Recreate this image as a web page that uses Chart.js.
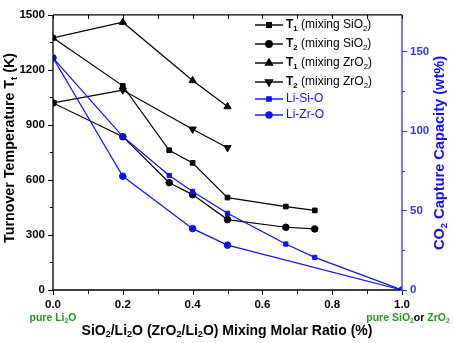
<!DOCTYPE html>
<html>
<head>
<meta charset="utf-8">
<script src="https://cdn.jsdelivr.net/npm/chart.js@4.4.1/dist/chart.umd.min.js"></script>
<style>
html,body{margin:0;padding:0;background:#fff;}
#wrap{position:relative;width:454px;height:343px;}
</style>
</head>
<body>
<div id="wrap"><canvas id="c" width="454" height="343"></canvas></div>
<script>
// ---- data ----
const t1SiO2X = [0, 0.2, 0.333, 0.4, 0.5, 0.667, 0.75];
const t1SiO2  = [1375, 1113, 762, 693, 504, 455, 434];
const t2SiO2X = [0, 0.2, 0.333, 0.4, 0.5, 0.667, 0.75];
const t2SiO2  = [1020, 836, 585, 520, 384, 342, 333];
const t1ZrO2X = [0, 0.2, 0.4, 0.5];
const t1ZrO2  = [1375, 1460, 1142, 1000];
const t2ZrO2X = [0, 0.2, 0.4, 0.5];
const t2ZrO2  = [1020, 1090, 877, 776];
const liSiOX  = [0, 0.2, 0.333, 0.4, 0.5, 0.667, 0.75, 1.0];
const liSiO   = [146, 96.5, 72, 62, 48.2, 28.9, 20.5, 0];
const liZrOX  = [0, 0.2, 0.4, 0.5, 1.0];
const liZrO   = [146, 71.5, 38.6, 28.2, 0];

const BLUE = '#1010ff';
const AXBLUE = '#3333ff';
const GREEN = '#1e9a1e';
const FONT = '"Liberation Sans", Arial, sans-serif';

function pts(xs, ys){ return xs.map((x,i)=>({x:x, y:ys[i]})); }

function ds(label, xs, ys, color, style, axis, radius, rot){
  return {
    label: label, data: pts(xs, ys), yAxisID: axis,
    borderColor: color, backgroundColor: color,
    borderWidth: 1.2, pointStyle: style, pointRadius: radius,
    pointRotation: rot || 0, pointBorderWidth: 1, tension: 0, fill: false
  };
}

// rich text: segments [{t, sub}]
function richWidth(ctx, segs, size, weight){
  let w = 0;
  segs.forEach(s=>{
    const fs = s.sub ? size*0.65 : size;
    ctx.font = (s.w || weight) + ' ' + fs + 'px ' + FONT;
    w += ctx.measureText(s.t).width;
  });
  return w;
}
function drawRich(ctx, segs, x, y, size, weight, align){
  let w = richWidth(ctx, segs, size, weight);
  let cx = align === 'center' ? x - w/2 : x;
  ctx.textBaseline = 'middle';
  ctx.textAlign = 'left';
  segs.forEach(s=>{
    const fs = s.sub ? size*0.65 : size;
    ctx.font = (s.w || weight) + ' ' + fs + 'px ' + FONT;
    if (s.c) ctx.fillStyle = s.c;
    ctx.fillText(s.t, cx, s.sub ? y + size*0.28 : y);
    cx += ctx.measureText(s.t).width;
  });
}

const legendItems = [
  {segs:[{t:'T',w:'bold'},{t:'1',sub:true,w:'bold'},{t:' (mixing SiO'},{t:'2',sub:true},{t:')'}], color:'#000', style:'rect', r:3.2, rot:0, tc:'#000'},
  {segs:[{t:'T',w:'bold'},{t:'2',sub:true,w:'bold'},{t:' (mixing SiO'},{t:'2',sub:true},{t:')'}], color:'#000', style:'circle', r:3.2, rot:0, tc:'#000'},
  {segs:[{t:'T',w:'bold'},{t:'1',sub:true,w:'bold'},{t:' (mixing ZrO'},{t:'2',sub:true},{t:')'}], color:'#000', style:'triangle', r:4, rot:0, tc:'#000'},
  {segs:[{t:'T',w:'bold'},{t:'2',sub:true,w:'bold'},{t:' (mixing ZrO'},{t:'2',sub:true},{t:')'}], color:'#000', style:'triangle', r:4, rot:180, tc:'#000'},
  {segs:[{t:'Li-Si-O'}], color:BLUE, style:'rect', r:3, rot:0, tc:BLUE},
  {segs:[{t:'Li-Zr-O'}], color:BLUE, style:'circle', r:3, rot:0, tc:BLUE}
];

const decor = {
  id: 'decor',
  afterDraw(chart){
    const ctx = chart.ctx;
    const a = chart.chartArea;
    const sx = chart.scales.x, sy = chart.scales.y, sy1 = chart.scales.y1;
    ctx.save();
    // frame
    ctx.lineWidth = 1.3;
    ctx.strokeStyle = '#000';
    ctx.beginPath();
    ctx.moveTo(a.left, a.top); ctx.lineTo(a.right, a.top);
    ctx.moveTo(a.left, a.top); ctx.lineTo(a.left, a.bottom);
    ctx.moveTo(a.left, a.bottom); ctx.lineTo(a.right, a.bottom);
    ctx.stroke();
    ctx.strokeStyle = AXBLUE;
    ctx.beginPath();
    ctx.moveTo(a.right, a.top); ctx.lineTo(a.right, a.bottom + 0.5);
    ctx.stroke();
    // x ticks bottom (outward) and top (inward)
    ctx.strokeStyle = '#000';
    ctx.lineWidth = 1;
    ctx.beginPath();
    sx.ticks.forEach(t=>{
      const px = Math.round(sx.getPixelForValue(t.value)) + 0.5;
      const major = Math.round(t.value*10) % 2 === 0;
      ctx.moveTo(px, a.bottom); ctx.lineTo(px, a.bottom + (major ? 5 : 4));
      ctx.moveTo(px, a.top); ctx.lineTo(px, a.top + 4);
    });
    // left ticks
    sy.ticks.forEach(t=>{
      const py = Math.round(sy.getPixelForValue(t.value)) + 0.5;
      const major = t.value % 300 === 0;
      ctx.moveTo(a.left, py); ctx.lineTo(a.left - (major ? 5 : 3), py);
    });
    ctx.stroke();
    // right ticks
    ctx.strokeStyle = AXBLUE;
    ctx.beginPath();
    sy1.ticks.forEach(t=>{
      if (t.value % 25 !== 0) return;
      const py = Math.round(sy1.getPixelForValue(t.value)) + 0.5;
      const major = t.value % 50 === 0;
      ctx.moveTo(a.right, py); ctx.lineTo(a.right + (major ? 5 : 3), py);
    });
    ctx.stroke();

    // axis titles
    ctx.fillStyle = '#000';
    drawRich(ctx, [{t:'SiO'},{t:'2',sub:true},{t:'/Li'},{t:'2',sub:true},{t:'O (ZrO'},{t:'2',sub:true},{t:'/Li'},{t:'2',sub:true},{t:'O) Mixing Molar Ratio (%)'}],
      227, 331, 14, 'bold', 'center');
    ctx.save();
    ctx.translate(10, 148);
    ctx.rotate(-Math.PI/2);
    ctx.fillStyle = '#000';
    drawRich(ctx, [{t:'Turnover Temperature T'},{t:'t',sub:true},{t:' (K)'}], 0, 0, 14.3, 'bold', 'center');
    ctx.restore();
    ctx.save();
    ctx.translate(440, 153);
    ctx.rotate(-Math.PI/2);
    ctx.fillStyle = BLUE;
    drawRich(ctx, [{t:'CO'},{t:'2',sub:true},{t:' Capture Capacity (wt%)'}], 0, 0, 14.6, 'bold', 'center');
    ctx.restore();

    // green end labels
    ctx.fillStyle = GREEN;
    drawRich(ctx, [{t:'pure Li'},{t:'2',sub:true},{t:'O'}], sx.getPixelForValue(0), 318, 10.5, 'bold', 'center');
    drawRich(ctx, [{t:'pure SiO',c:GREEN},{t:'2',sub:true,c:GREEN},{t:'or ',c:'#000'},{t:'ZrO',c:GREEN},{t:'2',sub:true,c:GREEN}],
      sx.getPixelForValue(1) + 6, 318, 10.5, 'bold', 'center');

    // legend
    legendItems.forEach((it, i)=>{
      const ys = [25, 44, 63, 82, 99, 115][i];
      ctx.strokeStyle = it.color;
      ctx.lineWidth = 1.4;
      ctx.beginPath(); ctx.moveTo(255, ys); ctx.lineTo(283, ys); ctx.stroke();
      ctx.fillStyle = it.color;
      Chart.helpers.drawPoint(ctx, {pointStyle: it.style, radius: it.r, rotation: it.rot, borderWidth: 1}, 269, ys);
      ctx.fillStyle = it.tc;
      drawRich(ctx, it.segs, 286, ys, 12, 'normal', 'left');
    });
    ctx.restore();
  }
};

const tickFont = {family: FONT, size: 11.5, weight: 'bold'};

new Chart(document.getElementById('c'), {
  type: 'line',
  data: {
    datasets: [
      ds('Li-Si-O', liSiOX, liSiO, BLUE, 'rect', 'y1', 3, 0),
      ds('Li-Zr-O', liZrOX, liZrO, BLUE, 'circle', 'y1', 3.3, 0),
      ds('T1 SiO2', t1SiO2X, t1SiO2, '#000', 'rect', 'y', 3.3, 0),
      ds('T2 SiO2', t2SiO2X, t2SiO2, '#000', 'circle', 'y', 3.3, 0),
      ds('T1 ZrO2', t1ZrO2X, t1ZrO2, '#000', 'triangle', 'y', 4.2, 0),
      ds('T2 ZrO2', t2ZrO2X, t2ZrO2, '#000', 'triangle', 'y', 4.2, 180)
    ]
  },
  options: {
    responsive: false,
    animation: false,
    layout: {padding: {top: 6, left: 0, right: 0, bottom: 0}},
    plugins: {legend: {display: false}, tooltip: {enabled: false}},
    scales: {
      x: {
        type: 'linear', position: 'bottom', min: 0, max: 1,
        grid: {display: false, drawTicks: false}, border: {display: false},
        ticks: {stepSize: 0.1, padding: 8, font: tickFont, color: '#000', maxRotation: 0, autoSkip: false,
          callback: v => (Math.round(v*10) % 2 === 0 ? v.toFixed(1) : '')},
        afterFit: s => { s.height = 53; }
      },
      y: {
        type: 'linear', position: 'left', min: 0, max: 1500,
        grid: {display: false, drawTicks: false}, border: {display: false},
        ticks: {stepSize: 150, padding: 8, font: tickFont, color: '#000', autoSkip: false,
          callback: v => (v % 300 === 0 ? String(v) : '')},
        afterFit: s => { s.width = 53; }
      },
      y1: {
        type: 'linear', position: 'right', min: 0, max: 173,
        grid: {display: false, drawTicks: false}, border: {display: false},
        ticks: {stepSize: 25, padding: 8, font: tickFont, color: AXBLUE, autoSkip: false,
          callback: v => (v % 50 === 0 ? String(v) : '')},
        afterFit: s => { s.width = 52; }
      }
    }
  },
  plugins: [decor]
});
</script>
</body>
</html>
